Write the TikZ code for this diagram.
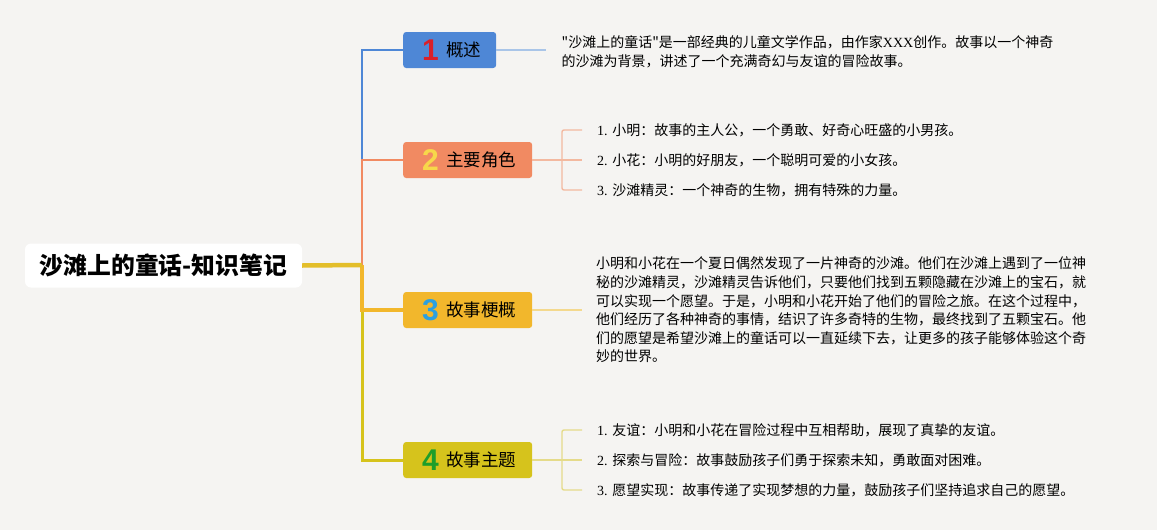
\documentclass[tikz,border=0pt]{standalone}
\usepackage{fontspec}
\setmainfont{Liberation Serif}
\newfontfamily\cjk{Noto Sans CJK SC}
\newfontfamily\numfont{Liberation Sans}
\definecolor{bg}{HTML}{F5F4F2}
\definecolor{cblue}{HTML}{4E87D6}
\definecolor{lblue}{HTML}{A9C5E8}
\definecolor{corange}{HTML}{F18A62}
\definecolor{lorange}{HTML}{F3B9A0}
\definecolor{cgold}{HTML}{F2B72C}
\definecolor{lgold}{HTML}{F4D98E}
\definecolor{colive}{HTML}{D6C31C}
\definecolor{lolive}{HTML}{E5DB8A}
\definecolor{croot}{HTML}{E3BE2A}
\definecolor{nred}{HTML}{D9202A}
\definecolor{nyellow}{HTML}{F7D84A}
\definecolor{nblue}{HTML}{2DA0DF}
\definecolor{ngreen}{HTML}{1E9E2A}
\begin{document}
\begin{tikzpicture}[x=1pt,y=-1pt,
  rootbox/.style={fill=white, rounded corners=6pt, minimum width=277pt, minimum height=44pt, inner sep=0pt,
    font=\cjk\bfseries\fontsize{23.8}{27}\selectfont},
  topicbox/.style={rounded corners=3pt, minimum height=36pt, inner sep=0pt, anchor=west},
  numlabel/.style={font=\numfont\bfseries\fontsize{30}{32}\selectfont, inner sep=0pt},
  toplabel/.style={font=\cjk\fontsize{17.5}{20}\selectfont, inner sep=0pt, anchor=west},
  leaftext/.style={font=\fontsize{14}{18.6}\selectfont, inner sep=0pt, anchor=west, align=left},
  leafline/.style={line width=1.4pt},
]
\useasboundingbox (0,0) rectangle (1157,530);
\fill[bg] (0,0) rectangle (1157,530);

% root
\node[rootbox] (root) at (163.5,265.5) {沙滩上的童话-知识笔记};

% topic boxes
\node[topicbox, fill=cblue, minimum width=93pt] (b1) at (403,50) {};
\node[topicbox, fill=corange, minimum width=129pt] (b2) at (403,160) {};
\node[topicbox, fill=cgold, minimum width=129pt] (b3) at (403,310) {};
\node[topicbox, fill=colive, minimum width=129pt] (b4) at (403,460) {};

\node[numlabel, text=nred] (n1) at (430.5,50) {1};
\node[numlabel, text=nyellow] (n2) at (430.5,160) {2};
\node[numlabel, text=nblue] (n3) at (430.5,310) {3};
\node[numlabel, text=ngreen] (n4) at (430.5,460) {4};

\node[toplabel] (l1) at (446,50) {概述};
\node[toplabel] (l2) at (446,160) {主要角色};
\node[toplabel] (l3) at (446,310) {故事梗概};
\node[toplabel] (l4) at (446,460) {故事主题};

% trunk coordinates
\coordinate (j1) at (362,50);
\coordinate (j2) at (362,160);
\coordinate (jr) at (362,265);
\coordinate (j3) at (362,310);
\coordinate (j4) at (362,460);

% trunk connectors
\draw[cblue, line width=2pt] (b1.west) -- (j1) -- (j2);
\draw[corange, line width=2.4pt] (b2.west) -- (j2) -- (jr);
\draw[colive, line width=3pt] (j3) -- (j4) -- (b4.west);
\draw[cgold, line width=4pt] (jr) -- (j3) -- (b3.west);
\draw[croot, line width=4.5pt] (root.east) -- (jr);

% leaf 1
\coordinate (e1) at (546,50);
\draw[lblue, leafline] (b1.east) -- (e1);
\node[leaftext] (t1) at (561.5,52) {{\cjk "沙滩上的童话"是一部经典的儿童文学作品，由作家}XXX{\cjk 创作。故事以一个神奇}\\
{\cjk 的沙滩为背景，讲述了一个充满奇幻与友谊的冒险故事。}};

% leaf 2 bracket
\coordinate (k21) at (562,130);
\coordinate (k23) at (562,190);
\coordinate (m21) at (582,130);
\coordinate (m22) at (582,160);
\coordinate (m23) at (582,190);
\draw[lorange, leafline] (b2.east) -- (m22);
\draw[lorange, leafline, rounded corners=2pt] (m21) -- (k21) -- (k23) -- (m23);
\node[leaftext] (t21) at (597,130) {1. {\cjk 小明：故事的主人公，一个勇敢、好奇心旺盛的小男孩。}};
\node[leaftext] (t22) at (597,160) {2. {\cjk 小花：小明的好朋友，一个聪明可爱的小女孩。}};
\node[leaftext] (t23) at (597,190) {3. {\cjk 沙滩精灵：一个神奇的生物，拥有特殊的力量。}};

% leaf 3
\coordinate (e3) at (582,310);
\draw[lgold, leafline] (b3.east) -- (e3);
\node[leaftext, font=\cjk\fontsize{14}{18.6}\selectfont] (t3) at (596,310) {小明和小花在一个夏日偶然发现了一片神奇的沙滩。他们在沙滩上遇到了一位神\\
秘的沙滩精灵，沙滩精灵告诉他们，只要他们找到五颗隐藏在沙滩上的宝石，就\\
可以实现一个愿望。于是，小明和小花开始了他们的冒险之旅。在这个过程中，\\
他们经历了各种神奇的事情，结识了许多奇特的生物，最终找到了五颗宝石。他\\
们的愿望是希望沙滩上的童话可以一直延续下去，让更多的孩子能够体验这个奇\\
妙的世界。};

% leaf 4 bracket
\coordinate (k41) at (562,430);
\coordinate (k43) at (562,490);
\coordinate (m41) at (582,430);
\coordinate (m42) at (582,460);
\coordinate (m43) at (582,490);
\draw[lolive, leafline] (b4.east) -- (m42);
\draw[lolive, leafline, rounded corners=2pt] (m41) -- (k41) -- (k43) -- (m43);
\node[leaftext] (t41) at (597,430) {1. {\cjk 友谊：小明和小花在冒险过程中互相帮助，展现了真挚的友谊。}};
\node[leaftext] (t42) at (597,460) {2. {\cjk 探索与冒险：故事鼓励孩子们勇于探索未知，勇敢面对困难。}};
\node[leaftext] (t43) at (597,490) {3. {\cjk 愿望实现：故事传递了实现梦想的力量，鼓励孩子们坚持追求自己的愿望。}};
\end{tikzpicture}
\end{document}
